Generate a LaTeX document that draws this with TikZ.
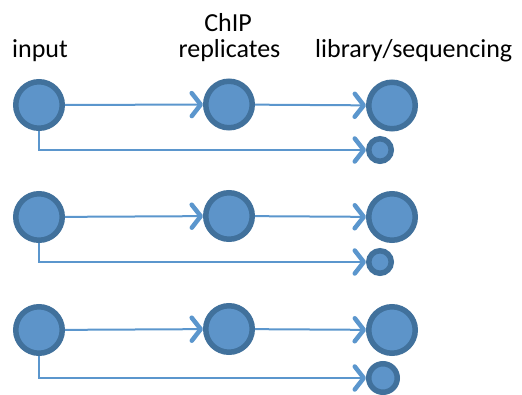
\documentclass[tikz,border=0pt]{standalone}
\usepackage{fontspec}
\setmainfont{Carlito}
\usetikzlibrary{arrows.meta}
\definecolor{fillblue}{RGB}{93,148,201}
\definecolor{edgeblue}{RGB}{65,113,156}
\definecolor{lineblue}{RGB}{91,150,205}
\begin{document}
\begin{tikzpicture}[x=1pt,y=-1pt,
  big/.style={circle,draw=edgeblue,fill=fillblue,line width=5.5pt,inner sep=0pt,minimum size=46.5pt},
  small/.style={circle,draw=edgeblue,fill=fillblue,line width=5.5pt,inner sep=0pt,minimum size=22.5pt},
  conn/.style={draw=lineblue,line width=2pt,-{Straight Barb[length=9pt,width=23pt,line width=4.5pt,round]}},
  lbl/.style={font=\fontsize{26}{31}\selectfont,inner sep=0pt}]
\useasboundingbox (0,0) rectangle (522,394);
\node[lbl,anchor=base west] (tin) at (12,57) {input};
\node[lbl,anchor=base] (tchip) at (228,31) {ChIP};
\node[lbl,anchor=base] (trep) at (229.5,57) {replicates};
\node[lbl,anchor=base west] (tlib) at (315,57) {library/sequencing};
\foreach \i/\ya/\yb/\yc/\ys/\xs/\ss in {1/105/104.5/105.5/150/380/22.5, 2/217/216/217/262/380/22.5, 3/330/329/330/378/383/28.5}{
  \node[big] (in\i) at (39,\ya) {};
  \node[big] (ch\i) at (229,\yb) {};
  \node[big] (lib\i) at (392,\yc) {};
  \node[small,minimum size=\ss pt] (sm\i) at (\xs,\ys) {};
  \draw[conn] (in\i) -- (ch\i);
  \draw[conn] (ch\i) -- (lib\i);
  \draw[conn] (in\i.south) |- (sm\i.west);
}
\end{tikzpicture}
\end{document}
